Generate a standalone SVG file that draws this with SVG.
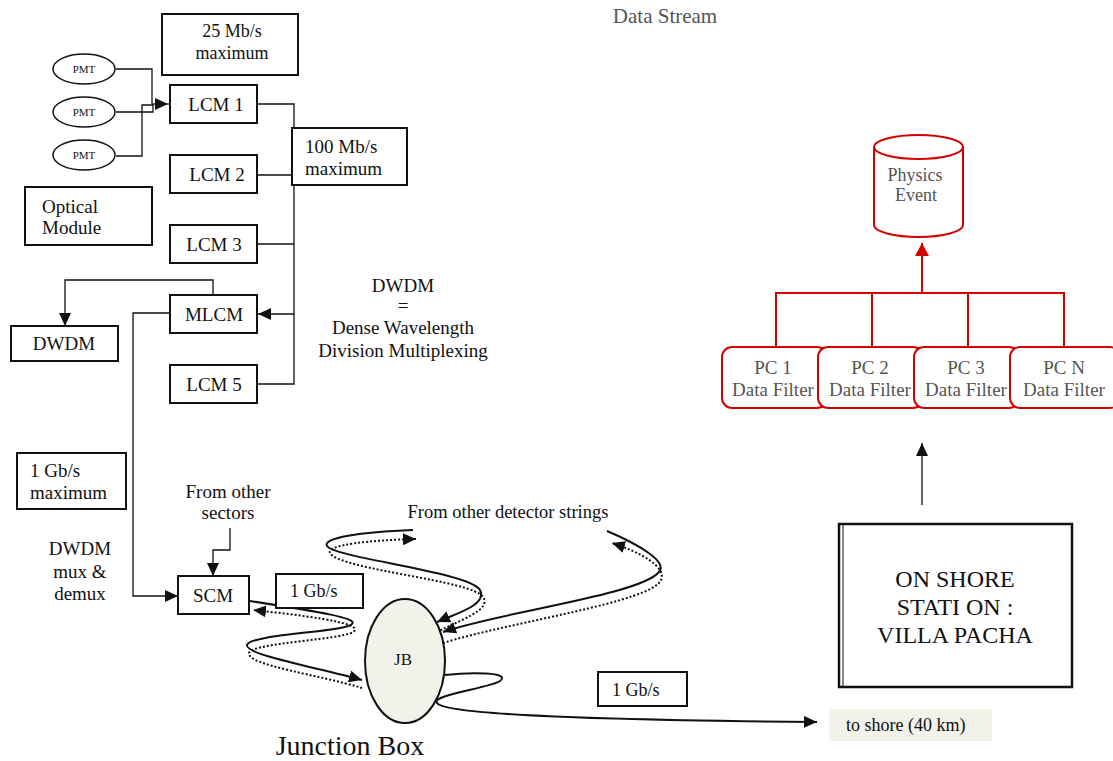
<svg xmlns="http://www.w3.org/2000/svg" width="1113" height="761" viewBox="0 0 1113 761">
<style>
text{font-family:"Liberation Serif","Times New Roman",serif;fill:#111}
.f{font-size:19px}
.c{text-anchor:middle}
.box{fill:#fff;stroke:#111;stroke-width:2}
.ln{fill:none;stroke:#111;stroke-width:1.3}
.cab{fill:none;stroke:#111;stroke-width:2}
.dot{fill:none;stroke:#111;stroke-width:2;stroke-dasharray:2,2}
.red{fill:none;stroke:#d40000;stroke-width:2}
.pc{fill:#fff;stroke:#d40000;stroke-width:2}
.gray{fill:#555}
</style>
<defs>
<marker id="ah" markerUnits="userSpaceOnUse" markerWidth="14" markerHeight="12" refX="13" refY="6" orient="auto"><path d="M0,0 L13,6 L0,12 z" fill="#111"/></marker>
<marker id="ahr" markerUnits="userSpaceOnUse" markerWidth="14" markerHeight="14" refX="13" refY="7" orient="auto"><path d="M0,0 L13,7 L0,14 z" fill="#d40000"/></marker>
</defs>
<rect width="1113" height="761" fill="#fff"/>

<g id="connectors">
<path class="ln" d="M116,69 H152 V104"/>
<path class="ln" d="M116,112 H153 V104"/>
<path class="ln" d="M116,156 H142 V105 H153"/>
<path class="ln" d="M152,104 H168" marker-end="url(#ah)"/>
<path class="ln" d="M168,104 H190" marker-end="url(#ah)"/>
<path class="ln" d="M257,104 H294 V384 H257"/>
<path class="ln" d="M257,175 H294"/>
<path class="ln" d="M257,244 H294"/>
<path class="ln" d="M294,314 H258" marker-end="url(#ah)" stroke-width="1.8"/>
<path class="ln" d="M213,295 V280 H65 V326" marker-end="url(#ah)"/>
<path class="ln" d="M170,313 H133 V596 H178" marker-end="url(#ah)"/>
<path class="ln" d="M230,528 V550 H213 V576" marker-end="url(#ah)"/>
<path class="cab" d="M250,601 C320,612 358,618 352,624 C346,632 250,634 247,645 C245,655 320,668 362,680" marker-end="url(#ah)"/>
<path class="dot" d="M362,688 C320,675 246,665 249,653 C252,642 352,640 355,630 C357,622 300,615 253,610" marker-end="url(#ah)"/>
<path class="cab" d="M413,530 C360,532 322,538 327,546 C335,558 470,572 480,590 C488,605 455,614 437,622" marker-end="url(#ah)"/>
<path class="dot" d="M433,634 C460,620 492,610 483,597 C472,580 340,570 330,553 C326,545 370,540 416,539" marker-end="url(#ah)"/>
<path class="cab" d="M607,531 C640,545 668,562 659,572 C640,595 500,612 443,632" marker-end="url(#ah)"/>
<path class="dot" d="M443,643 C510,622 652,602 661,580 C667,567 640,552 612,543" marker-end="url(#ah)"/>
<path class="cab" d="M445,675 C470,672 512,672 500,681 C490,688 430,695 437,703 C445,715 600,720 817,722" marker-end="url(#ah)"/>
<path class="ln" d="M922,505 V443" marker-end="url(#ah)"/>
<path class="red" d="M776,347 V293 H1064 V347 M872,293 V347 M968,293 V347"/>
<path class="red" d="M922,293 V243" stroke-width="2.5" marker-end="url(#ahr)"/>
</g>

<g id="pmt1"><ellipse cx="84" cy="69" rx="31" ry="15" fill="#fff" stroke="#111" stroke-width="1.5"/><text x="84" y="73" class="c" style="font-size:11px">PMT</text></g>
<g id="pmt2"><ellipse cx="84" cy="112" rx="31" ry="15" fill="#fff" stroke="#111" stroke-width="1.5"/><text x="84" y="116" class="c" style="font-size:11px">PMT</text></g>
<g id="pmt3"><ellipse cx="84" cy="155" rx="31" ry="15" fill="#fff" stroke="#111" stroke-width="1.5"/><text x="84" y="159" class="c" style="font-size:11px">PMT</text></g>

<g id="rate25"><rect class="box" x="162" y="14" width="136" height="61" stroke-width="1.3"/><text x="232" y="37" class="c" style="font-size:18px">25  Mb/s</text><text x="232" y="59" class="c" style="font-size:18px">maximum</text></g>
<g id="lcm1"><rect class="box" x="170" y="85" width="87" height="38"/><text x="216" y="111" class="c f">LCM 1</text></g>
<g id="lcm2"><rect class="box" x="170" y="155" width="87" height="38"/><text x="217" y="181" class="c f">LCM 2</text></g>
<g id="lcm3"><rect class="box" x="170" y="225" width="87" height="38"/><text x="214" y="251" class="c f">LCM 3</text></g>
<g id="mlcm"><rect class="box" x="170" y="295" width="87" height="38"/><text x="214" y="321" class="c f">MLCM</text></g>
<g id="lcm5"><rect class="box" x="170" y="365" width="87" height="38"/><text x="214" y="391" class="c f">LCM 5</text></g>
<g id="rate100"><rect class="box" x="292" y="128" width="115" height="57"/><text x="305" y="153" class="f">100  Mb/s</text><text x="305" y="175" class="f">maximum</text></g>
<g id="optical"><rect class="box" x="25" y="187" width="127" height="58" stroke-width="1.5"/><text x="42" y="213" class="f">Optical</text><text x="42" y="234" class="f">Module</text></g>
<g id="dwdm"><rect class="box" x="11" y="326" width="107" height="35"/><text x="64" y="350" class="c f">DWDM</text></g>
<g id="dwdmdef"><text x="403" y="292" class="c f">DWDM</text><text x="403" y="312" class="c f">=</text><text x="403" y="334" class="c f">Dense  Wavelength</text><text x="403" y="357" class="c f">Division Multiplexing</text></g>
<g id="rate1g"><rect class="box" x="17" y="453" width="109" height="56" stroke-width="1.5"/><text x="30" y="477" class="f">1 Gb/s</text><text x="30" y="499" class="f">maximum</text></g>
<g id="muxlabel"><text x="80" y="555" class="c f">DWDM</text><text x="80" y="578" class="c f">mux &amp;</text><text x="80" y="600" class="c f">demux</text></g>
<g id="sectors"><text x="228" y="498" class="c f">From  other</text><text x="228" y="519" class="c f">sectors</text></g>
<g id="scm"><rect class="box" x="178" y="576" width="71" height="38"/><text x="213" y="602" class="c f">SCM</text></g>
<g id="rate1gscm"><rect class="box" x="276" y="574" width="87" height="34"/><text x="290" y="597" style="font-size:18px">1 Gb/s</text></g>
<g id="strings"><text x="508" y="518" class="c" style="font-size:18.5px">From other detector strings</text></g>
<g id="jb"><ellipse cx="405" cy="661" rx="40" ry="62" fill="#f3f2ea" stroke="#111" stroke-width="2"/><text x="403" y="665" class="c" style="font-size:17px">JB</text></g>
<g id="jblabel"><text x="350" y="755" class="c" style="font-size:28px">Junction Box</text></g>
<g id="rate1gshore"><rect class="box" x="598" y="672" width="89" height="34"/><text x="612" y="696" style="font-size:18px">1 Gb/s</text></g>
<g id="toshore"><rect x="829" y="709" width="163" height="32" fill="#f3f2ea"/><text x="846" y="731" style="font-size:18px">to shore (40 km)</text></g>
<g id="onshore"><rect x="839" y="524" width="233" height="163" fill="#fff" stroke="#111" stroke-width="2.5"/><line x1="843" y1="524" x2="843" y2="687" stroke="#111" stroke-width="1"/><text x="955" y="587" class="c" style="font-size:24px">ON SHORE</text><text x="955" y="615" class="c" style="font-size:24px">STATI ON :</text><text x="955" y="643" class="c" style="font-size:24px">VILLA PACHA</text></g>
<g id="datastream"><text x="665" y="23" class="c gray" style="font-size:21px">Data Stream</text></g>
<g id="physics"><path d="M874,147 V225 A44.5,12 0 0 0 963,225 V147" fill="#fff" stroke="#d40000" stroke-width="2"/><ellipse cx="918.5" cy="147" rx="44.5" ry="12" fill="#fff" stroke="#d40000" stroke-width="2"/><text x="915" y="181" class="c gray" style="font-size:18px">Physics</text><text x="916" y="201" class="c gray" style="font-size:18px">Event</text></g>
<g id="pc1"><rect class="pc" x="722" y="347" width="105" height="61" rx="10"/><text x="773" y="374" class="c gray f">PC 1</text><text x="773" y="396" class="c gray f">Data Filter</text></g>
<g id="pc2"><rect class="pc" x="818" y="347" width="105" height="61" rx="10"/><text x="870" y="374" class="c gray f">PC 2</text><text x="870" y="396" class="c gray f">Data Filter</text></g>
<g id="pc3"><rect class="pc" x="914" y="347" width="105" height="61" rx="10"/><text x="966" y="374" class="c gray f">PC 3</text><text x="966" y="396" class="c gray f">Data Filter</text></g>
<g id="pcn"><rect class="pc" x="1010" y="347" width="110" height="61" rx="10"/><text x="1064" y="374" class="c gray f">PC N</text><text x="1064" y="396" class="c gray f">Data Filter</text></g>
</svg>
